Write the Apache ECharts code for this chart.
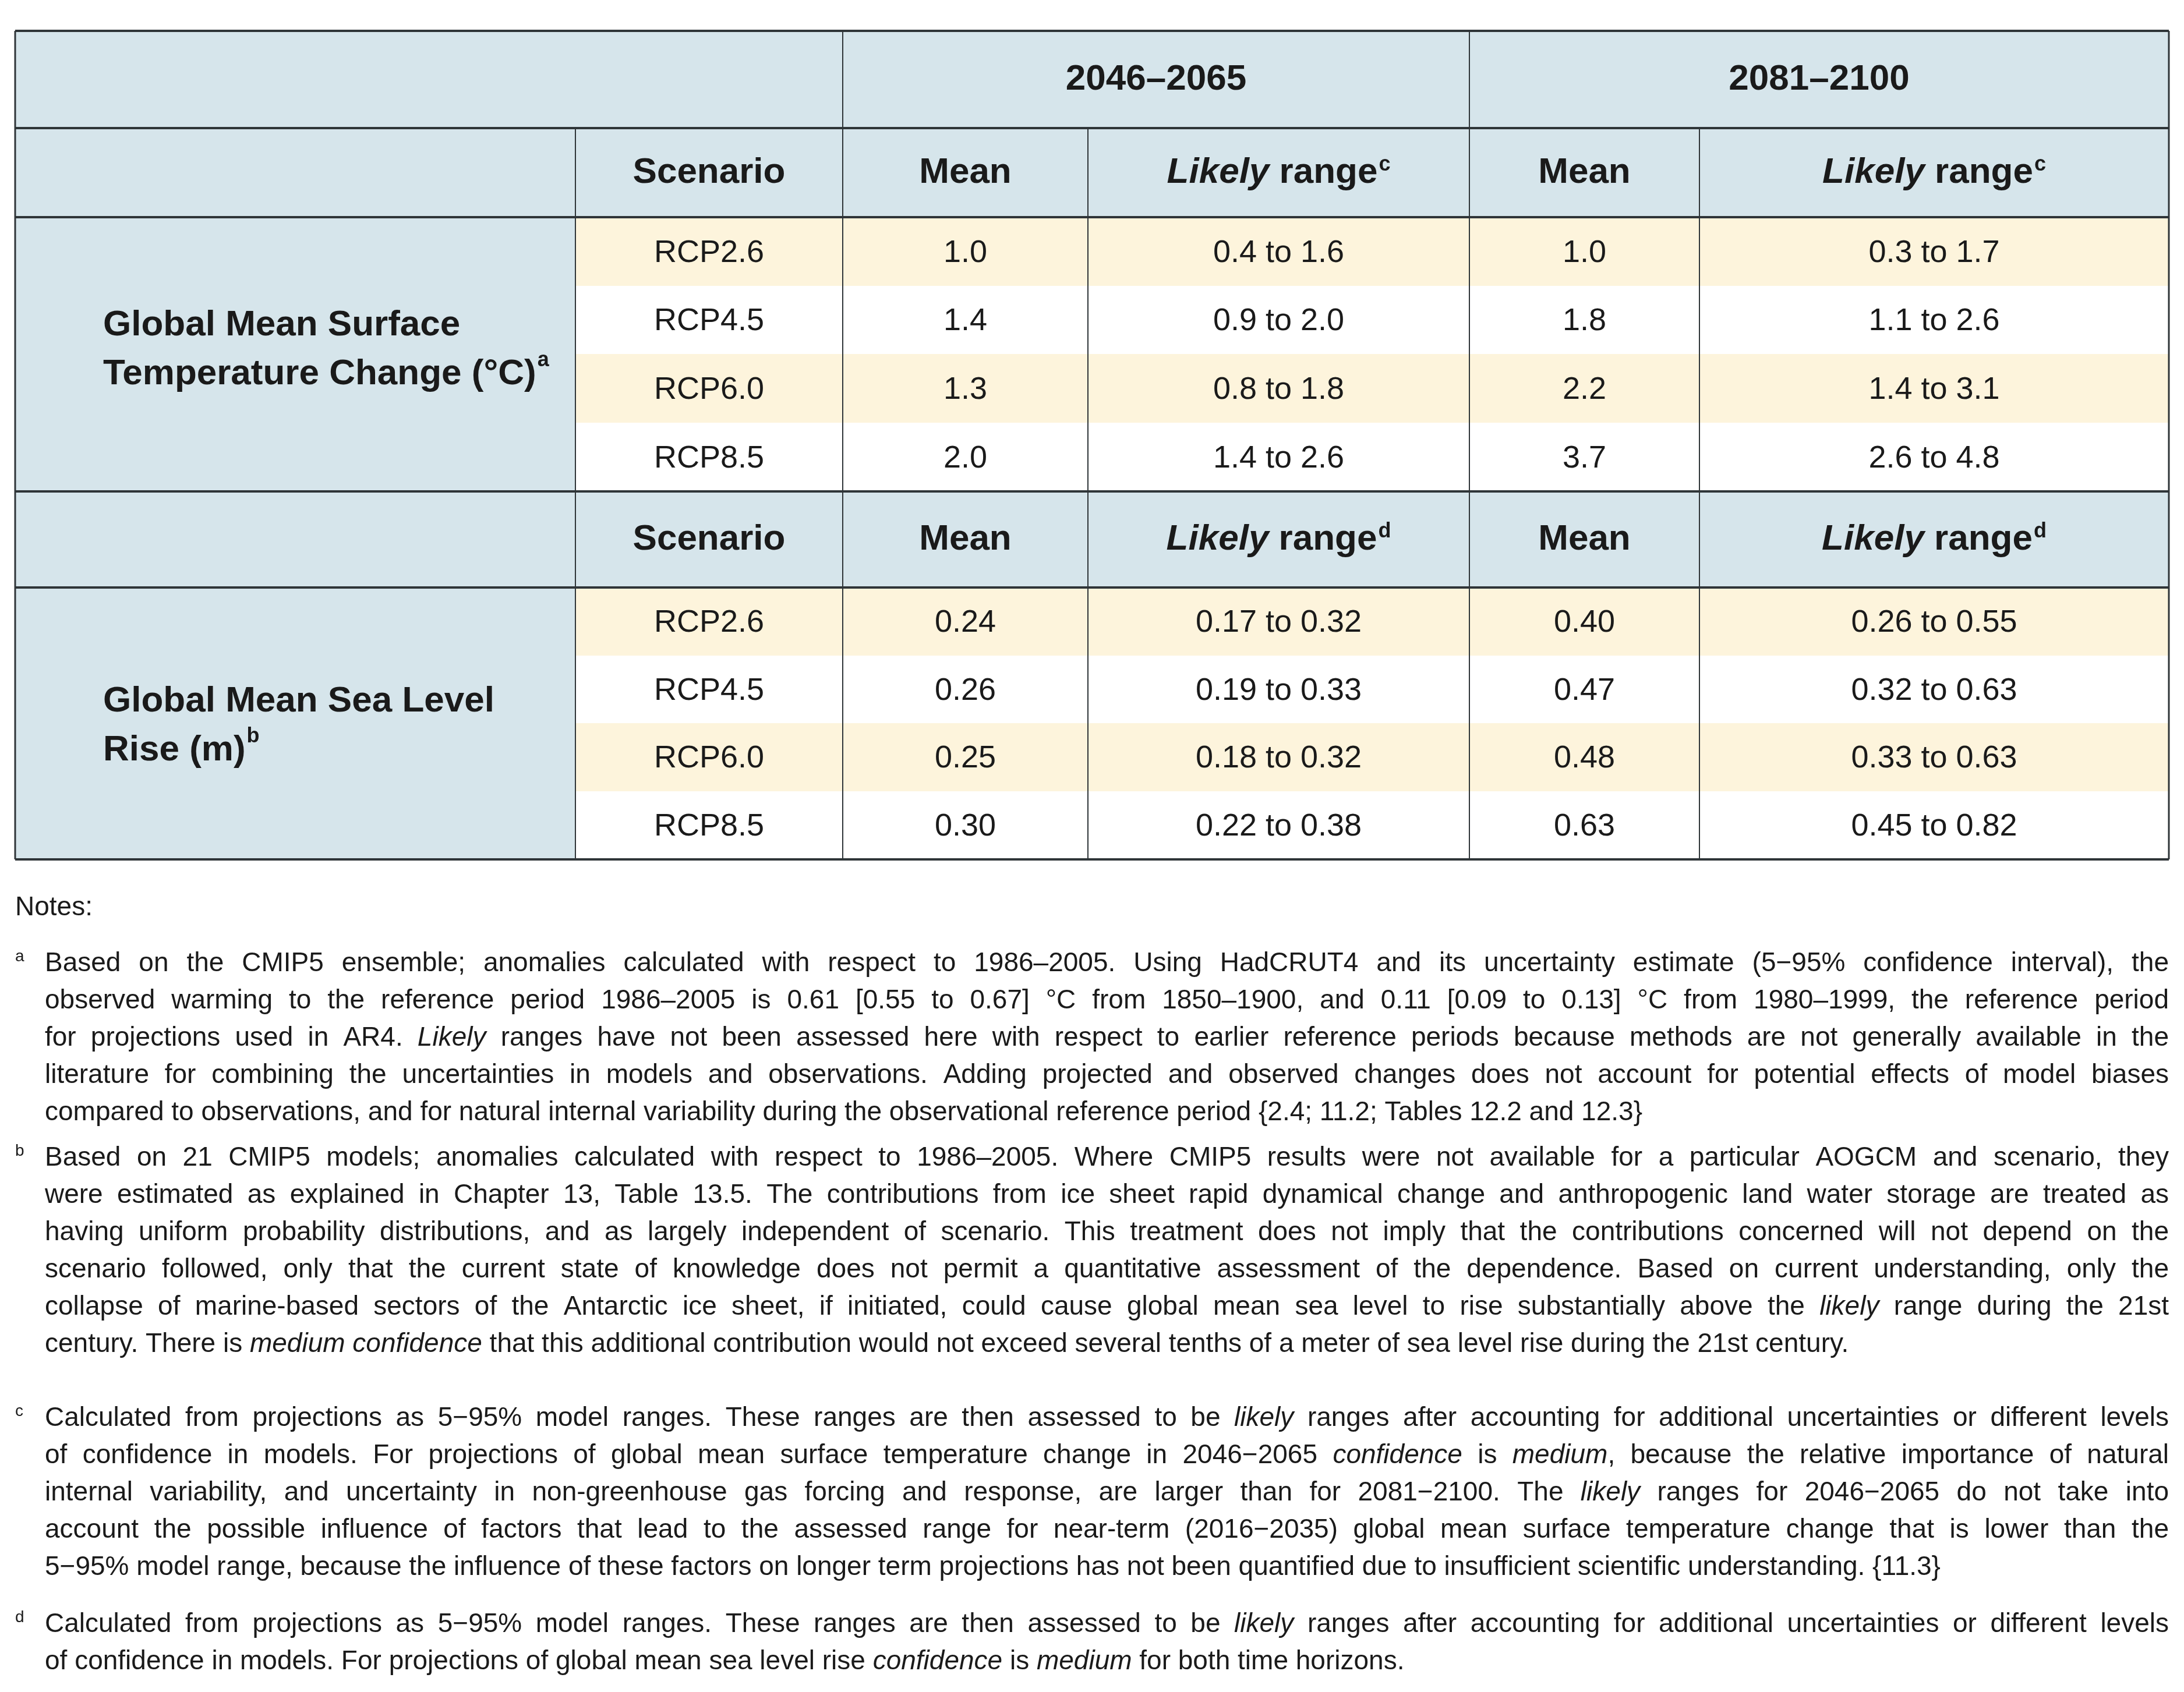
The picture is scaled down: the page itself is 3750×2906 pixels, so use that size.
<!DOCTYPE html>
<html>
<head>
<meta charset="utf-8">
<script src="https://cdn.jsdelivr.net/npm/echarts@6/dist/echarts.min.js"></script>
<style>html,body{margin:0;padding:0;background:#fff}#chart{width:3750px;height:2906px}</style>
</head>
<body>
<div id="chart"></div>
<script>
// table data
const periods = ["2046–2065", "2081–2100"];
const scenarios = ["RCP2.6", "RCP4.5", "RCP6.0", "RCP8.5"];
const tempLabel = ["Global Mean Surface", "Temperature Change (°C)"];
const tempSup = "a";
const tempMean1 = ["1.0", "1.4", "1.3", "2.0"];
const tempRange1 = ["0.4 to 1.6", "0.9 to 2.0", "0.8 to 1.8", "1.4 to 2.6"];
const tempMean2 = ["1.0", "1.8", "2.2", "3.7"];
const tempRange2 = ["0.3 to 1.7", "1.1 to 2.6", "1.4 to 3.1", "2.6 to 4.8"];
const seaLabel = ["Global Mean Sea Level", "Rise (m)"];
const seaSup = "b";
const seaMean1 = ["0.24", "0.26", "0.25", "0.30"];
const seaRange1 = ["0.17 to 0.32", "0.19 to 0.33", "0.18 to 0.32", "0.22 to 0.38"];
const seaMean2 = ["0.40", "0.47", "0.48", "0.63"];
const seaRange2 = ["0.26 to 0.55", "0.32 to 0.63", "0.33 to 0.63", "0.45 to 0.82"];

// notes, one string per printed line, _x_ = italic
const notesA = [
  "Based on the CMIP5 ensemble; anomalies calculated with respect to 1986–2005. Using HadCRUT4 and its uncertainty estimate (5−95% confidence interval), the",
  "observed warming to the reference period 1986–2005 is 0.61 [0.55 to 0.67] °C from 1850–1900, and 0.11 [0.09 to 0.13] °C from 1980–1999, the reference period",
  "for projections used in AR4. _Likely_ ranges have not been assessed here with respect to earlier reference periods because methods are not generally available in the",
  "literature for combining the uncertainties in models and observations. Adding projected and observed changes does not account for potential effects of model biases",
  "compared to observations, and for natural internal variability during the observational reference period {2.4; 11.2; Tables 12.2 and 12.3}"
];
const notesB = [
  "Based on 21 CMIP5 models; anomalies calculated with respect to 1986–2005. Where CMIP5 results were not available for a particular AOGCM and scenario, they",
  "were estimated as explained in Chapter 13, Table 13.5. The contributions from ice sheet rapid dynamical change and anthropogenic land water storage are treated as",
  "having uniform probability distributions, and as largely independent of scenario. This treatment does not imply that the contributions concerned will not depend on the",
  "scenario followed, only that the current state of knowledge does not permit a quantitative assessment of the dependence. Based on current understanding, only the",
  "collapse of marine-based sectors of the Antarctic ice sheet, if initiated, could cause global mean sea level to rise substantially above the _likely_ range during the 21st",
  "century. There is _medium confidence_ that this additional contribution would not exceed several tenths of a meter of sea level rise during the 21st century."
];
const notesC = [
  "Calculated from projections as 5−95% model ranges. These ranges are then assessed to be _likely_ ranges after accounting for additional uncertainties or different levels",
  "of confidence in models. For projections of global mean surface temperature change in 2046−2065 _confidence_ is _medium_, because the relative importance of natural",
  "internal variability, and uncertainty in non-greenhouse gas forcing and response, are larger than for 2081−2100. The _likely_ ranges for 2046−2065 do not take into",
  "account the possible influence of factors that lead to the assessed range for near-term (2016−2035) global mean surface temperature change that is lower than the",
  "5−95% model range, because the influence of these factors on longer term projections has not been quantified due to insufficient scientific understanding. {11.3}"
];
const notesD = [
  "Calculated from projections as 5−95% model ranges. These ranges are then assessed to be _likely_ ranges after accounting for additional uncertainties or different levels",
  "of confidence in models. For projections of global mean sea level rise _confidence_ is _medium_ for both time horizons."
];

// layout
const colX = [26, 988, 1447, 1868, 2523, 2918, 3724];
const rowY = [53, 220, 373, 491, 608, 726, 844, 1009, 1126, 1242, 1359, 1476];
const BLUE = "#d6e5eb", CREAM = "#fdf4dc", LINE = "#2f3538";
const FONT = "'Liberation Sans Narrow', 'Liberation Sans', sans-serif";
const NOTEFONT = "'Liberation Sans', sans-serif";

const g = [];
function rect(x0, y0, x1, y1, fill) {
  g.push({ type: "rect", shape: { x: x0, y: y0, width: x1 - x0, height: y1 - y0 }, style: { fill: fill } });
}
function line(x0, y0, x1, y1, w) {
  g.push({ type: "line", shape: { x1: x0, y1: y0, x2: x1, y2: y1 }, style: { stroke: LINE, lineWidth: w } });
}
function ctext(cx, cy, str, size, weight) {
  g.push({ type: "text", x: cx, y: cy, style: { text: str, font: (weight || "normal") + " " + size + "px " + FONT, fill: "#1a1a1a", align: "center", verticalAlign: "middle" } });
}
function rangeHead(cx, cy, sup) {
  g.push({ type: "text", x: cx, y: cy, style: {
    text: "{i|Likely}{b|\u00a0range}{s|" + sup + "}", align: "center", verticalAlign: "middle",
    rich: {
      i: { font: "italic bold 62px " + FONT, fill: "#1a1a1a" },
      b: { font: "bold 62px " + FONT, fill: "#1a1a1a" },
      s: { font: "bold 36px " + FONT, fill: "#1a1a1a", verticalAlign: "top", padding: [0, 0, 22, 2] }
    } } });
}

// backgrounds
rect(colX[0], rowY[0], colX[6], rowY[2], BLUE);
rect(colX[0], rowY[6], colX[6], rowY[7], BLUE);
rect(colX[0], rowY[2], colX[1], rowY[6], BLUE);
rect(colX[0], rowY[7], colX[1], rowY[11], BLUE);
for (let i = 0; i < 4; i++) {
  const fill = i % 2 === 0 ? CREAM : "#ffffff";
  rect(colX[1], rowY[2 + i], colX[6], rowY[3 + i], fill);
  rect(colX[1], rowY[7 + i], colX[6], rowY[8 + i], fill);
}

// header texts
const midY = (a, b) => (rowY[a] + rowY[b]) / 2;
const midX = (a, b) => (colX[a] + colX[b]) / 2;
ctext(midX(2, 4), midY(0, 1), periods[0], 62, "bold");
ctext(midX(4, 6), midY(0, 1), periods[1], 62, "bold");
[[1, 2, "c"], [6, 7, "d"]].forEach(([r0, r1, sup]) => {
  ctext(midX(1, 2), midY(r0, r1), "Scenario", 62, "bold");
  ctext(midX(2, 3), midY(r0, r1), "Mean", 62, "bold");
  rangeHead(midX(3, 4), midY(r0, r1), sup);
  ctext(midX(4, 5), midY(r0, r1), "Mean", 62, "bold");
  rangeHead(midX(5, 6), midY(r0, r1), sup);
});

// data cells
function block(r0, cols) {
  scenarios.forEach((s, i) => {
    const cy = midY(r0 + i, r0 + i + 1) + 3;
    ctext(midX(1, 2), cy, s, 54);
    cols.forEach((arr, c) => ctext(midX(2 + c, 3 + c), cy, arr[i], 54));
  });
}
block(2, [tempMean1, tempRange1, tempMean2, tempRange2]);
block(7, [seaMean1, seaRange1, seaMean2, seaRange2]);

// row labels
function rowLabel(lines, sup, y0) {
  g.push({ type: "text", x: 177, y: y0, style: {
    text: "{b|" + lines[0] + "}\n{b|" + lines[1] + "}{s|" + sup + "}", align: "left", verticalAlign: "middle",
    rich: {
      b: { font: "bold 62px " + FONT, fill: "#1a1a1a", lineHeight: 84 },
      s: { font: "bold 36px " + FONT, fill: "#1a1a1a", verticalAlign: "top", lineHeight: 84, padding: [0, 0, 24, 2] }
    } } });
}
rowLabel(tempLabel, tempSup, 601);
rowLabel(seaLabel, seaSup, 1247);

// grid lines
[0, 1, 2, 6, 7, 11].forEach(r => line(colX[0], rowY[r], colX[6], rowY[r], 4));
line(colX[0], rowY[0], colX[0], rowY[11], 3);
line(colX[6], rowY[0], colX[6], rowY[11], 3);
line(colX[2], rowY[0], colX[2], rowY[11], 2);
line(colX[4], rowY[0], colX[4], rowY[11], 2);
[1, 3, 5].forEach(c => line(colX[c], rowY[1], colX[c], rowY[11], 2));

// notes
g.push({ type: "text", x: 26, y: 1559, style: { text: "Notes:", font: "46px " + NOTEFONT, fill: "#1a1a1a", verticalAlign: "middle" } });
const noteX = 77, noteR = 3724, noteLH = 64;
const ctx = document.createElement("canvas").getContext("2d");
function tokens(str) {
  const out = [];
  str.split(/(_[^_]+_)/).forEach(part => {
    if (!part) return;
    const it = part[0] === "_";
    const t = it ? part.slice(1, -1) : part;
    t.split(" ").forEach((w, k, arr) => {
      if (w === "") { if (k > 0 && k < arr.length) out.push({ w: "", it: it, join: false }); return; }
      out.push({ w: w, it: it, join: k === 0 });
    });
  });
  // merge words that touch across style boundaries (e.g. "_medium_,")
  const words = [];
  out.forEach(t => {
    if (t.w === "") { if (words.length) words[words.length - 1].open = true; return; }
    if (t.join && words.length && !words[words.length - 1].open) words[words.length - 1].parts.push(t);
    else words.push({ parts: [t], open: false });
    words[words.length - 1].open = false;
  });
  return words;
}
let noteSize = 46;
function wordWidth(word, size) {
  return word.parts.reduce((s, p) => { ctx.font = (p.it ? "italic " : "") + size + "px " + NOTEFONT; return s + ctx.measureText(p.w).width; }, 0);
}
const allNotes = [notesA, notesB, notesC, notesD];
ctx.font = noteSize + "px " + NOTEFONT;
const space0 = ctx.measureText(" ").width;
let maxW = 0;
allNotes.forEach(n => n.forEach(l => {
  const ws = tokens(l);
  const w = ws.reduce((s, x) => s + wordWidth(x, noteSize), 0) + space0 * 0.6 * (ws.length - 1);
  maxW = Math.max(maxW, w);
}));
if (maxW > (noteR - noteX)) noteSize = Math.floor(noteSize * (noteR - noteX) / maxW * 0.998);
function note(mark, lines, y0) {
  g.push({ type: "text", x: 26, y: y0 - 12, style: { text: mark, font: "28px " + NOTEFONT, fill: "#1a1a1a", verticalAlign: "middle" } });
  lines.forEach((l, li) => {
    const y = y0 + li * noteLH;
    const ws = tokens(l);
    const widths = ws.map(w => wordWidth(w, noteSize));
    ctx.font = noteSize + "px " + NOTEFONT;
    const sp = ctx.measureText(" ").width;
    const total = widths.reduce((a, b) => a + b, 0);
    const gap = li < lines.length - 1 ? (noteR - noteX - total) / (ws.length - 1) : sp;
    let x = noteX;
    ws.forEach((w, k) => {
      let px = x;
      w.parts.forEach(p => {
        const f = (p.it ? "italic " : "") + noteSize + "px " + NOTEFONT;
        g.push({ type: "text", x: px, y: y, style: { text: p.w, font: f, fill: "#1a1a1a", verticalAlign: "middle" } });
        ctx.font = f;
        px += ctx.measureText(p.w).width;
      });
      x += widths[k] + gap;
    });
  });
}
note("a", notesA, 1655);
note("b", notesB, 1989);
note("c", notesC, 2436);
note("d", notesD, 2790);

const chart = echarts.init(document.getElementById("chart"), null, { renderer: "canvas" });
chart.setOption({ backgroundColor: "#ffffff", animation: false, graphic: { elements: g } });
</script>
</body>
</html>
